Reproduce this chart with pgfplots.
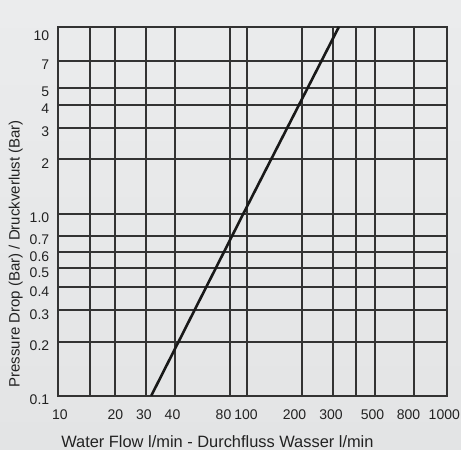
\documentclass[border=0pt]{standalone}
\usepackage{fontspec}
\setmainfont{Liberation Sans}
\usepackage{pgfplots}
\pgfplotsset{compat=1.18}
\definecolor{bgtop}{HTML}{EBECED}
\definecolor{bgbot}{HTML}{E3E4E5}
\definecolor{gridc}{HTML}{333333}
\definecolor{txt}{HTML}{222222}

% piecewise-logarithmic scales copied from the drawn grid of the reference
\makeatletter
\def\pwnorm#1{\in@{Y}{#1}\ifin@\pgfmathfloattosci{#1}\edef\pwX{\pgfmathresult}\else\edef\pwX{#1}\fi
  \edef\pwL{\fpeval{ln(\pwX)/ln(10)}}}
\makeatother
\def\pwseg#1,#2,#3,#4\relax{\edef\pgfmathresult{\fpeval{round((#2)+(\pwL-(#1))*((#4)-(#2))/((#3)-(#1)),4)}}}

\begin{document}
\begin{tikzpicture}
\fill[top color=bgtop,bottom color=bgbot] (0,0) rectangle (461bp,450bp);
\begin{axis}[
  at={(58bp,54.2bp)}, anchor=south west,
  scale only axis, width=388.8bp, height=368.8bp,
  x coord trafo/.code={%
    \pwnorm{#1}%
    \ifdim\pwL pt<1.17609pt \def\pwS{1,58,1.17609,90}%
    \else\ifdim\pwL pt<1.30103pt \def\pwS{1.17609,90,1.30103,115.3}%
    \else\ifdim\pwL pt<1.47712pt \def\pwS{1.30103,115.3,1.47712,146.3}%
    \else\ifdim\pwL pt<1.60206pt \def\pwS{1.47712,146.3,1.60206,175.3}%
    \else\ifdim\pwL pt<1.90309pt \def\pwS{1.60206,175.3,1.90309,230}%
    \else\ifdim\pwL pt<2pt \def\pwS{1.90309,230,2,247.3}%
    \else\ifdim\pwL pt<2.30103pt \def\pwS{2,247.3,2.30103,302}%
    \else\ifdim\pwL pt<2.47712pt \def\pwS{2.30103,302,2.47712,332.8}%
    \else\ifdim\pwL pt<2.60206pt \def\pwS{2.47712,332.8,2.60206,355.7}%
    \else\ifdim\pwL pt<2.69897pt \def\pwS{2.60206,355.7,2.69897,375.3}%
    \else\ifdim\pwL pt<2.90309pt \def\pwS{2.69897,375.3,2.90309,414.3}%
    \else \def\pwS{2.90309,414.3,3,446.8}%
    \fi\fi\fi\fi\fi\fi\fi\fi\fi\fi\fi
    \expandafter\pwseg\pwS\relax},
  y coord trafo/.code={%
    \pwnorm{#1}%
    \ifdim\pwL pt<-0.69897pt \def\pwS{-1,0,-0.69897,53.8}%
    \else\ifdim\pwL pt<-0.52288pt \def\pwS{-0.69897,53.8,-0.52288,85.5}%
    \else\ifdim\pwL pt<-0.39794pt \def\pwS{-0.52288,85.5,-0.39794,108.5}%
    \else\ifdim\pwL pt<-0.30103pt \def\pwS{-0.39794,108.5,-0.30103,127.5}%
    \else\ifdim\pwL pt<-0.22185pt \def\pwS{-0.30103,127.5,-0.22185,143.5}%
    \else\ifdim\pwL pt<-0.15490pt \def\pwS{-0.22185,143.5,-0.15490,159.8}%
    \else\ifdim\pwL pt<0pt \def\pwS{-0.15490,159.8,0,182.1}%
    \else\ifdim\pwL pt<0.30103pt \def\pwS{0,182.1,0.30103,236.5}%
    \else\ifdim\pwL pt<0.47712pt \def\pwS{0.30103,236.5,0.47712,268.1}%
    \else\ifdim\pwL pt<0.60206pt \def\pwS{0.47712,268.1,0.60206,291.1}%
    \else\ifdim\pwL pt<0.69897pt \def\pwS{0.60206,291.1,0.69897,308.1}%
    \else\ifdim\pwL pt<0.84510pt \def\pwS{0.69897,308.1,0.84510,335.1}%
    \else \def\pwS{0.84510,335.1,1,368.8}%
    \fi\fi\fi\fi\fi\fi\fi\fi\fi\fi\fi\fi
    \expandafter\pwseg\pwS\relax},
  xmin=10, xmax=1000, ymin=0.1, ymax=10,
  xtick={10,15,20,30,40,80,100,200,300,400,500,800,1000},
  xticklabels={{\kern4bp 10},{},20,{30\kern5bp},{40\kern5.6bp},{80\kern13bp},{100\kern2.6bp},{200\kern15bp},{300\kern3.6bp},{},{500\kern5.6bp},{800\kern11.6bp},{1000\kern5bp}},
  ytick={0.1,0.2,0.3,0.4,0.5,0.6,0.7,1,2,3,4,5,7,10},
  yticklabels={0.1,0.2,0.3,0.4,0.5,0.6,0.7,1.0,2,3,4,5,7,{\raisebox{-5bp}[\height][\depth]{10}}},
  grid=major,
  major grid style={gridc, line width=1.7bp},
  major tick length=0pt,
  axis line style={gridc, line width=1.7bp},
  /pgf/number format/assume math mode=true,
  tick label style={font=\fontsize{14bp}{16bp}\selectfont, text=txt},
  xticklabel style={yshift=-10.5bp},
  yticklabel style={xshift=-5.3bp, yshift=-4bp},
  xlabel={Water Flow l/min - Durchfluss Wasser l/min},
  ylabel={Pressure Drop (Bar) / Druckverlust (Bar)},
  xlabel style={font=\fontsize{16.4bp}{18bp}\selectfont, text=txt,
    at={(axis description cs:0.41,-0.141)}, anchor=base},
  ylabel style={font=\fontsize{15bp}{18bp}\selectfont, text=txt,
    at={(axis description cs:-0.099,0.385)}, anchor=base},
]
\addplot[color=black!90, line width=2.6bp] coordinates {(31.5,0.1) (95,1) (323.6,10)};
\node[anchor=base, font=\fontsize{15bp}{17bp}\selectfont, text=txt, yshift=4.3bp]
  at (axis cs:323.6,10) {C\textsubscript{v}=7.5};
\end{axis}
\pgfresetboundingbox
\path[use as bounding box] (0,0) rectangle (461bp,450bp);
\end{tikzpicture}
\end{document}
